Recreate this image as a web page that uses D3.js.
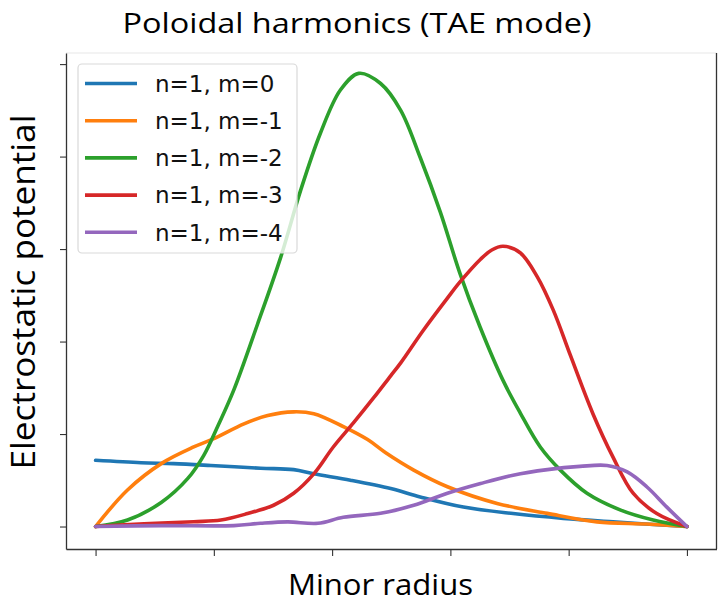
<!DOCTYPE html>
<html>
<head>
<meta charset="utf-8">
<script src="https://cdn.jsdelivr.net/npm/d3@7"></script>
<style>
  body { margin: 0; background: #fff; }
  svg { display: block; }
</style>
</head>
<body>
<svg id="chart"></svg>
<script>
// Harmonic profiles (arbitrary units)
const labels = ["n=1, m=0", "n=1, m=-1", "n=1, m=-2", "n=1, m=-3", "n=1, m=-4"];
const colors = ["#1f77b4", "#ff7f0e", "#2ca02c", "#d62728", "#9467bd"];

const m0x = [0, 0.077, 0.132, 0.195, 0.279, 0.335, 0.369, 0.431, 0.499, 0.549, 0.622, 0.706, 0.791, 0.875, 1.0];
const m0y = [0.716, 0.69, 0.68, 0.66, 0.63, 0.615, 0.57, 0.50, 0.41, 0.32, 0.21, 0.14, 0.088, 0.05, 0.0];

const m1x = [0, 0.054, 0.111, 0.166, 0.2, 0.251, 0.291, 0.335, 0.369, 0.419, 0.46, 0.49, 0.538, 0.595, 0.679, 0.764, 0.848, 0.932, 1.0];
const m1y = [0, 0.395, 0.68, 0.86, 0.95, 1.11, 1.20, 1.24, 1.22, 1.08, 0.94, 0.80, 0.61, 0.43, 0.25, 0.142, 0.05, 0.027, 0];

const m2x = [0, 0.054, 0.111, 0.156, 0.183, 0.207, 0.234, 0.274, 0.313, 0.347, 0.38, 0.414, 0.445, 0.482, 0.516, 0.549, 0.583, 0.616, 0.65, 0.689, 0.718, 0.752, 0.786, 0.831, 0.887, 0.943, 1.0];
const m2y = [0, 0.07, 0.26, 0.52, 0.77, 1.09, 1.48, 2.19, 2.91, 3.64, 4.25, 4.72, 4.90, 4.79, 4.50, 3.99, 3.40, 2.74, 2.16, 1.58, 1.23, 0.86, 0.61, 0.36, 0.18, 0.07, 0];

const m3x = [0, 0.082, 0.166, 0.212, 0.257, 0.301, 0.335, 0.369, 0.402, 0.436, 0.47, 0.499, 0.516, 0.554, 0.595, 0.617, 0.651, 0.67, 0.689, 0.718, 0.747, 0.774, 0.803, 0.841, 0.875, 0.909, 0.949, 1.0];
const m3y = [0, 0.03, 0.052, 0.07, 0.14, 0.23, 0.36, 0.57, 0.86, 1.12, 1.39, 1.63, 1.77, 2.12, 2.47, 2.65, 2.89, 2.99, 3.03, 2.96, 2.70, 2.34, 1.85, 1.22, 0.75, 0.36, 0.14, 0];

const m4x = [0, 0.111, 0.234, 0.279, 0.325, 0.376, 0.419, 0.482, 0.538, 0.595, 0.651, 0.706, 0.764, 0.819, 0.865, 0.899, 0.932, 0.966, 1.0];
const m4y = [0, 0.01, 0.01, 0.035, 0.05, 0.035, 0.1, 0.143, 0.23, 0.36, 0.465, 0.555, 0.615, 0.65, 0.66, 0.59, 0.43, 0.21, 0];

const xTicks = [0, 0.2, 0.4, 0.6, 0.8, 1.0];
const yTicks = [0, 1, 2, 3, 4, 5];

const seriesX = [m0x, m1x, m2x, m3x, m4x];
const seriesY = [m0y, m1y, m2y, m3y, m4y];

const width = 718, height = 605;
const margin = { left: 66, right: 1.5, top: 53, bottom: 56 };

const svg = d3.select("#chart")
  .attr("width", width)
  .attr("height", height);

const x = d3.scaleLinear()
  .domain([-0.05, 1.05])
  .range([margin.left, width - margin.right]);

const y = d3.scaleLinear()
  .domain([-0.243, 5.12])
  .range([height - margin.bottom, margin.top]);

// frame: top spine is pale in the picture
svg.append("line")
  .attr("x1", margin.left).attr("x2", width - margin.right)
  .attr("y1", margin.top).attr("y2", margin.top)
  .attr("stroke", "#e8e8e8").attr("stroke-width", 1.2);

// axes with tick marks only
const xAxis = svg.append("g")
  .attr("transform", `translate(0,${height - margin.bottom})`)
  .call(d3.axisBottom(x).tickValues(xTicks).tickSize(7).tickSizeOuter(0).tickFormat(""));
const yAxis = svg.append("g")
  .attr("transform", `translate(${margin.left},0)`)
  .call(d3.axisLeft(y).tickValues(yTicks).tickSize(6).tickSizeOuter(0).tickFormat(""));
[xAxis, yAxis].forEach(a => {
  a.select(".domain").attr("stroke", "#333").attr("stroke-width", 1.3);
  a.selectAll(".tick line").attr("stroke", "#333").attr("stroke-width", 1.1);
});

// right spine
svg.append("line")
  .attr("x1", width - margin.right).attr("x2", width - margin.right)
  .attr("y1", margin.top).attr("y2", height - margin.bottom)
  .attr("stroke", "#333").attr("stroke-width", 1.3);

// curves
const line = d3.line()
  .x(d => x(d[0]))
  .y(d => y(d[1]))
  .curve(d3.curveCatmullRom.alpha(0.5));

seriesX.forEach((xs, i) => {
  const pts = xs.map((v, j) => [v, seriesY[i][j]]);
  svg.append("path")
    .datum(pts)
    .attr("d", line)
    .attr("fill", "none")
    .attr("stroke", colors[i])
    .attr("stroke-width", 3.6)
    .attr("stroke-linejoin", "round")
    .attr("stroke-linecap", "round");
});

// legend
const legend = svg.append("g");
legend.append("rect")
  .attr("x", 78).attr("y", 64)
  .attr("width", 219).attr("height", 189)
  .attr("rx", 4)
  .attr("fill", "white").attr("fill-opacity", 0.8)
  .attr("stroke", "#d9d9d9").attr("stroke-width", 1.2);

labels.forEach((lab, i) => {
  const cy = 83.5 + i * 37.2;
  legend.append("line")
    .attr("x1", 85).attr("x2", 137)
    .attr("y1", cy).attr("y2", cy)
    .attr("stroke", colors[i]).attr("stroke-width", 3.6);
  legend.append("text")
    .attr("x", 155).attr("y", cy)
    .attr("dy", "0.36em")
    .attr("font-family", "DejaVu Sans")
    .attr("font-size", 23)
    .attr("fill", "#111")
    .text(lab);
});

// title and axis labels
svg.append("text")
  .attr("x", 357).attr("y", 33)
  .attr("text-anchor", "middle")
  .attr("font-family", "Open Sans")
  .attr("font-size", 28)
  .attr("textLength", 469)
  .attr("lengthAdjust", "spacingAndGlyphs")
  .attr("fill", "#000")
  .text("Poloidal harmonics (TAE mode)");

svg.append("text")
  .attr("x", 380.5).attr("y", 595)
  .attr("text-anchor", "middle")
  .attr("font-family", "Open Sans")
  .attr("font-size", 30)
  .attr("textLength", 185)
  .attr("lengthAdjust", "spacingAndGlyphs")
  .attr("fill", "#000")
  .text("Minor radius");

svg.append("text")
  .attr("transform", "translate(35,292) rotate(-90)")
  .attr("text-anchor", "middle")
  .attr("font-family", "Open Sans")
  .attr("font-size", 33)
  .attr("textLength", 355)
  .attr("lengthAdjust", "spacingAndGlyphs")
  .attr("fill", "#000")
  .text("Electrostatic potential");
</script>
</body>
</html>
